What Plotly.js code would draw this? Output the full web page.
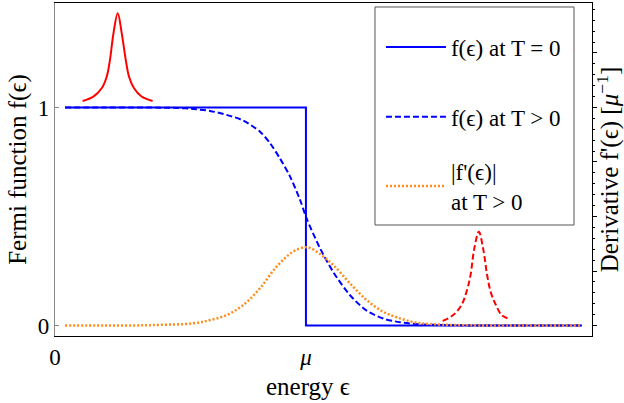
<!DOCTYPE html>
<html>
<head>
<meta charset="utf-8">
<script src="https://cdn.plot.ly/plotly-3.0.1.min.js"></script>
<style>html,body{margin:0;padding:0;background:#fff;}#chart{width:624px;height:403px;}</style>
</head>
<body>
<div id="chart"></div>
<script>
// Energy axis (in units of mu) and values
const stepX = [0.04, 1, 1, 2.10];
const stepY = [1, 1, 0, 0];

const fermiX = [0.04, 0.20, 0.35, 0.418, 0.485, 0.551, 0.618, 0.684, 0.750, 0.817, 0.857, 0.896, 0.936, 0.976, 1.003, 1.056, 1.109, 1.175, 1.242, 1.308, 1.375, 1.45, 1.55, 1.70, 1.90, 2.10];
const fermiY = [1.0, 1.0, 1.0, 0.999, 0.998, 0.993, 0.984, 0.966, 0.940, 0.889, 0.836, 0.767, 0.685, 0.578, 0.490, 0.355, 0.245, 0.140, 0.068, 0.032, 0.015, 0.006, 0.002, 0.0, 0.0, 0.0];

const derivX = [0.04, 0.20, 0.35, 0.418, 0.551, 0.618, 0.684, 0.75, 0.817, 0.883, 0.949, 0.996, 1.016, 1.056, 1.109, 1.175, 1.242, 1.308, 1.375, 1.441, 1.494, 1.60, 1.80, 2.10];
const derivY = [0.0, 0.0, 0.001, 0.003, 0.01, 0.025, 0.048, 0.094, 0.171, 0.27, 0.339, 0.359, 0.356, 0.328, 0.278, 0.194, 0.117, 0.063, 0.033, 0.013, 0.007, 0.002, 0.0, 0.0];

const peakLowX = [0.110, 0.153, 0.186, 0.206, 0.219, 0.233, 0.250, 0.266, 0.282, 0.295, 0.315, 0.345, 0.389];
const peakLowY = [1.030, 1.050, 1.088, 1.141, 1.218, 1.340, 1.432, 1.340, 1.218, 1.141, 1.088, 1.050, 1.030];

const peakHighX = [1.545, 1.587, 1.620, 1.640, 1.656, 1.671, 1.689, 1.706, 1.722, 1.736, 1.757, 1.780, 1.813];
const peakHighY = [0.021, 0.048, 0.094, 0.155, 0.232, 0.354, 0.430, 0.354, 0.232, 0.155, 0.094, 0.048, 0.029];

const xTickVals = [0, 1];
const xTickText = ["0", "<i>μ</i>"];
const yTickVals = [0, 1];
const yTickText = ["0", "1"];

const legendNames = ["f(ϵ) at T = 0", "f(ϵ) at T > 0", "|f'(ϵ)|<br>at T > 0"];
const xTitle = "energy ϵ";
const yTitle = "Fermi function f(ϵ)";
const y2Title = "Derivative f'(ϵ) [<i>μ</i><sup>−1</sup>]";

const serif = "Liberation Serif";
const blue = "#0000FF";
const orange = "#FF8C1A";
const red = "#FF0000";

const traces = [
  {x: peakLowX, y: peakLowY, mode: "lines", line: {color: red, width: 2, shape: "spline"}, showlegend: false, hoverinfo: "skip"},
  {x: peakHighX, y: peakHighY, mode: "lines", line: {color: red, width: 2, dash: "6px,3px", shape: "spline"}, showlegend: false, hoverinfo: "skip"},
  {x: stepX, y: stepY, mode: "lines", name: legendNames[0], legend: "legend", line: {color: blue, width: 2}},
  {x: fermiX, y: fermiY, mode: "lines", name: legendNames[1], legend: "legend2", line: {color: blue, width: 2, dash: "6px,3px", shape: "spline", smoothing: 0.8}},
  {x: derivX, y: derivY, mode: "lines", name: legendNames[2], legend: "legend3", yaxis: "y2", line: {color: orange, width: 2.5, dash: "2px,2px", shape: "spline"}}
];

const yRange = [-0.048, 1.479];

function legendAt(yc) {
  return {
    x: 0.607, y: yc, xanchor: "left", yanchor: "middle",
    bgcolor: "rgba(0,0,0,0)", borderwidth: 0,
    font: {family: serif, size: 23, color: "#000"},
    itemwidth: 60
  };
}

const layout = {
  width: 624, height: 403,
  margin: {l: 55, r: 32, t: 3, b: 67},
  paper_bgcolor: "#fff", plot_bgcolor: "#fff",
  font: {family: serif, size: 23, color: "#000"},
  showlegend: true,
  legend: legendAt(0.868),
  legend2: legendAt(0.658),
  legend3: legendAt(0.450),
  shapes: [{
    type: "rect", xref: "paper", yref: "paper",
    x0: 0.5959, x1: 0.9665, y0: 0.3333, y1: 0.988,
    line: {color: "#555", width: 1}, fillcolor: "#fff", layer: "above"
  }],
  annotations: [{
    text: xTitle, xref: "paper", yref: "paper", x: 0.471, y: -0.153,
    xanchor: "center", yanchor: "middle", showarrow: false,
    font: {family: serif, size: 25, color: "#000"}
  }],
  xaxis: {
    range: [0, 2.14], showgrid: false, zeroline: false,
    showline: true, linecolor: "#000", linewidth: 1.2, mirror: true,
    ticks: "", tickvals: xTickVals, ticktext: xTickText,
    tickfont: {family: serif, size: 23}
  },
  yaxis: {
    range: yRange, showgrid: false, zeroline: false,
    showline: true, linecolor: "#888", linewidth: 1.2,
    ticks: "inside", ticklen: 4, tickcolor: "#888",
    tickvals: yTickVals, ticktext: yTickText,
    tickfont: {family: serif, size: 23},
    title: {text: yTitle, font: {family: serif, size: 25}, standoff: 4}
  },
  yaxis2: {
    overlaying: "y", side: "right", anchor: "x",
    range: yRange, showgrid: false, zeroline: false,
    showline: true, linecolor: "#000", linewidth: 1.2,
    ticks: "outside", ticklen: 4, tickcolor: "#000", tick0: 0, dtick: 0.25,
    showticklabels: false,
    minor: {ticks: "outside", ticklen: 2, tickcolor: "#000", dtick: 0.05, tick0: 0},
    title: {text: y2Title, font: {family: serif, size: 25}, standoff: 6}
  }
};

Plotly.newPlot("chart", traces, layout, {staticPlot: true, displayModeBar: false});
</script>
</body>
</html>
